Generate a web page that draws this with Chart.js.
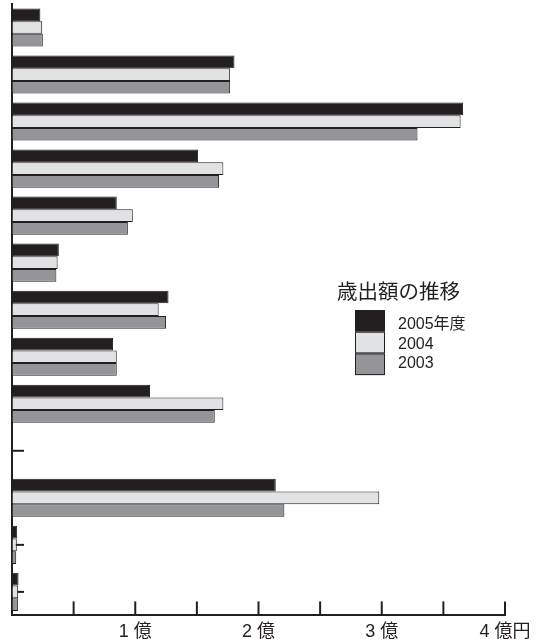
<!DOCTYPE html>
<html>
<head>
<meta charset="utf-8">
<script src="https://cdn.jsdelivr.net/npm/chart.js@4.4.1/dist/chart.umd.min.js"></script>
<style>
  html, body { margin: 0; padding: 0; background: #fff; }
  #wrap { width: 545px; height: 643px; position: relative; }
</style>
</head>
<body>
<div id="wrap"><canvas id="chart"></canvas></div>
<script>
// 歳出額の推移 (単位: 億円)
const categories = ['項目1','項目2','項目3','項目4','項目5','項目6','項目7','項目8','項目9','項目10','項目11','項目12','項目13'];
const seriesNames = ['2005年度', '2004', '2003'];
const values2005 = [0.23, 1.805, 3.66, 1.51, 0.85, 0.38, 1.27, 0.82, 1.12, 0, 2.14, 0.042, 0.053];
const values2004 = [0.245, 1.77, 3.64, 1.715, 0.98, 0.37, 1.19, 0.85, 1.715, 0, 2.98, 0.039, 0.05];
const values2003 = [0.25, 1.77, 3.29, 1.68, 0.94, 0.36, 1.25, 0.85, 1.645, 0, 2.21, 0.034, 0.05];
const xTickLabels = { 1: '1 億', 2: '2 億', 3: '3 億', 4: '4 億円' };
const legendTitle = '歳出額の推移';

const INK = '#231f20';
const colors = ['#231f20', '#e1e2e3', '#939598'];
const FONT = "'Liberation Sans', 'Noto Sans CJK JP', sans-serif";

// inward tick marks on both axes
const tickMarks = {
  id: 'tickMarks',
  beforeDatasetsDraw(chart){
    const { ctx, scales: { x, y }, chartArea } = chart;
    ctx.save();
    ctx.strokeStyle = INK;
    ctx.lineWidth = 2;
    x.ticks.forEach(t => {
      if (t.value === 0) return;
      const px = x.getPixelForValue(t.value);
      ctx.beginPath(); ctx.moveTo(px, chartArea.bottom); ctx.lineTo(px, chartArea.bottom - 14); ctx.stroke();
    });
    categories.forEach((c, i) => {
      const py = y.getPixelForValue(i);
      ctx.beginPath(); ctx.moveTo(chartArea.left, py); ctx.lineTo(chartArea.left + 12, py); ctx.stroke();
    });
    ctx.restore();
  }
};

// legend block with title and stacked swatches
const boxLegend = {
  id: 'boxLegend',
  afterDraw(chart){
    const { ctx } = chart;
    ctx.save();
    ctx.fillStyle = INK;
    ctx.font = '20.5px ' + FONT;
    ctx.textAlign = 'left';
    ctx.textBaseline = 'alphabetic';
    ctx.fillText(legendTitle, 337, 299);
    const bx = 355, by = 310, bw = 30, bh = 21.7;
    chart.data.datasets.forEach((ds, i) => {
      const top = by + i * bh;
      ctx.fillStyle = ds.backgroundColor;
      ctx.fillRect(bx, top, bw, bh);
      ctx.strokeStyle = INK;
      ctx.lineWidth = 1;
      ctx.strokeRect(bx + 0.5, top + 0.5, bw - 1, bh - 1);
      ctx.fillStyle = INK;
      ctx.font = '16px ' + FONT;
      ctx.textBaseline = 'middle';
      ctx.fillText(ds.label, 398, 325 + i * 19.3);
    });
    ctx.restore();
  }
};

const ctx = document.getElementById('chart').getContext('2d');
new Chart(ctx, {
  type: 'bar',
  data: {
    labels: categories,
    datasets: [values2005, values2004, values2003].map((vals, i) => ({
      label: seriesNames[i],
      data: vals,
      backgroundColor: colors[i],
      borderColor: INK,
      borderWidth: 1,
      borderSkipped: 'left',
      categoryPercentage: 0.81,
      barPercentage: 1
    }))
  },
  options: {
    indexAxis: 'y',
    responsive: true, maintainAspectRatio: false, animation: false,
    layout: { padding: { left: 12, right: 40, top: 4, bottom: -6 } },
    scales: {
      x: {
        min: 0, max: 4,
        grid: { drawOnChartArea: false, drawTicks: false },
        border: { display: true, color: INK, width: 2 },
        ticks: {
          stepSize: 0.5, autoSkip: false, maxRotation: 0, padding: 6,
          color: INK, font: { family: FONT, size: 18 },
          callback: v => xTickLabels[v] || ''
        }
      },
      y: {
        grid: { drawOnChartArea: false, drawTicks: false },
        border: { display: true, color: INK, width: 2 },
        ticks: { display: false }
      }
    },
    plugins: { legend: { display: false }, tooltip: { enabled: false } }
  },
  plugins: [tickMarks, boxLegend]
});
</script>
</body>
</html>
